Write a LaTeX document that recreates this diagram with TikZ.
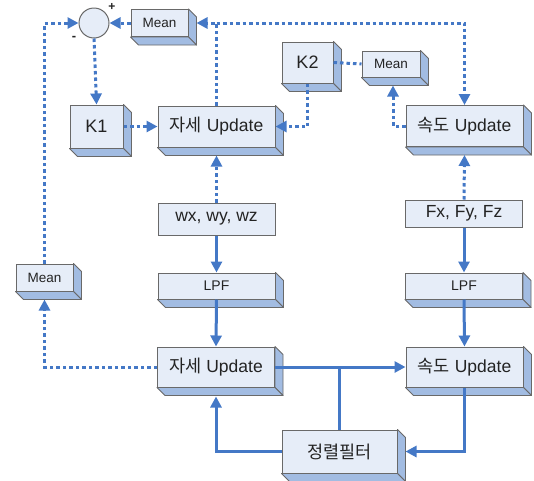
\documentclass[tikz,border=0pt]{standalone}
\usepackage{fontspec}
\setmainfont{Liberation Sans}
\newfontfamily\kr{Noto Sans CJK KR}
\usetikzlibrary{calc,arrows.meta}

\definecolor{frontfill}{RGB}{230,237,248}
\definecolor{sidefill}{RGB}{162,188,226}
\definecolor{edgegray}{RGB}{105,105,105}
\definecolor{flow}{RGB}{68,120,198}
\definecolor{txt}{RGB}{35,35,35}

\newcommand\fs[1]{\fontsize{#1}{#1}\selectfont}

% oblique side faces of a block, depth 8
\newcommand\cubeside[1]{%
  \filldraw[sidefill, draw=edgegray, line width=0.9pt, line join=round]
    (#1.north east) -- ++(8,8) -- ($(#1.south east)+(8,8)$) -- (#1.south east) -- cycle;
  \filldraw[sidefill, draw=edgegray, line width=0.9pt, line join=round]
    (#1.south west) -- ++(8,8) -- ($(#1.south east)+(8,8)$) -- (#1.south east) -- cycle;
}

\tikzset{
  blk/.style={draw=edgegray, fill=frontfill, line width=1pt, inner sep=0pt,
    text=txt, minimum width=#1},
  blk/.default=117pt,
  small/.style={font=\fs{13.5}},
  mid/.style={font=\fs{14}},
  big/.style={font=\fs{17.5}},
  tip/.style={-{Triangle[length=11pt,width=11pt]}},
  flowline/.style={draw=flow, line width=3pt, tip},
  plainline/.style={draw=flow, line width=3pt},
  dotline/.style={draw=flow, line width=3pt, dash pattern=on 3.5pt off 3pt, tip},
  dotplain/.style={draw=flow, line width=3pt, dash pattern=on 3.5pt off 3pt},
}

\begin{document}
\begin{tikzpicture}[x=1pt, y=-1pt]
\useasboundingbox (0,0) rectangle (534,480);

% summing junction
\node[circle, draw=edgegray, fill=frontfill, line width=1pt, minimum size=30pt, inner sep=0pt] (sum) at (94,23) {};
\node[font=\bfseries\fs{12}, text=txt] (plus) at (112,7) {+};
\node[font=\bfseries\fs{13}, text=txt] (minus) at (74,38) {-};

% blocks
\node[blk=57pt, minimum height=27pt, small] (meanA) at (159.5,23) {Mean};
\node[blk=53pt, minimum height=43pt, font=\fs{18}] (K1) at (96.5,126.5) {K1};
\node[blk, minimum height=41pt, big] (attT) at (216.5,126.5) {{\kr 자세} Update};
\node[blk=51pt, minimum height=41pt, font=\fs{18}] (K2) at (307.5,62.5) {K2};
\node[blk=58pt, minimum height=26pt, small] (meanB) at (391,64) {Mean};
\node[blk, minimum height=41pt, big] (velT) at (464.5,126) {{\kr 속도} Update};
\node[blk, minimum height=32pt, font=\fs{17.5}] (wx) at (216.5,219) {wx, wy, wz};
\node[blk, minimum height=27pt, font=\fs{17.5}] (fx) at (464,213.5) {Fx, Fy, Fz};
\node[blk, minimum height=26pt, mid] (lpfA) at (216.5,286) {LPF};
\node[blk, minimum height=26pt, mid] (lpfB) at (464,286) {LPF};
\node[blk=57pt, minimum height=27pt, small] (meanC) at (44.5,277.5) {Mean};
\node[blk, minimum height=40pt, big] (attB) at (216,367) {{\kr 자세} Update};
\node[blk, minimum height=40pt, big] (velB) at (464.5,367) {{\kr 속도} Update};
\node[blk=115pt, minimum height=43pt, big] (filt) at (339.5,451.5) {\kr 정렬필터};

\foreach \n in {meanA,K1,attT,K2,meanB,velT,lpfA,lpfB,meanC,attB,velB,filt}{\cubeside{\n}}

% feedback paths (dotted)
\draw[dotline] (attT.north) |- ($(meanA.east)+(8,0)$);
\draw[dotline] (attT.north |- meanA.east) -| (velT.north);
\draw[dotline] (meanA.west) -- (sum.east);
\draw[dotline] (meanC.north) |- (sum.west);
\draw[dotline] (sum.south) -- (K1.north);
\draw[dotline] (K1.east) -- (attT.west);
\draw[dotline] (K2.south) |- (attT.east);
\draw[dotplain] (K2.east) -- (meanB.west);
\draw[dotline] (velT.west) -| ($(meanB.south)+(2,8)$);
\draw[dotline] (wx.north) -- ($(attT.south)+(0,8)$);
\draw[dotline] (fx.north) -- ($(velT.south)+(0,8)$);
\draw[dotline] (attB.west) -| ($(meanC.south)+(0,8)$);

% main signal paths (solid)
\draw[flowline] (wx.south) -- (lpfA.north);
\draw[flowline] (fx.south) -- (lpfB.north);
\draw[flowline] (lpfA.south) -- (attB.north);
\draw[flowline] (lpfB.south) -- (velB.north);
\draw[flowline] (attB.east) -- (velB.west);
\draw[plainline] (filt.north) -- (filt.north |- attB.east);
\draw[flowline] (velB.south) |- ($(filt.east)+(8,0)$);
\draw[flowline] (filt.west) -| ($(attB.south)+(0,9)$);
\end{tikzpicture}
\end{document}
